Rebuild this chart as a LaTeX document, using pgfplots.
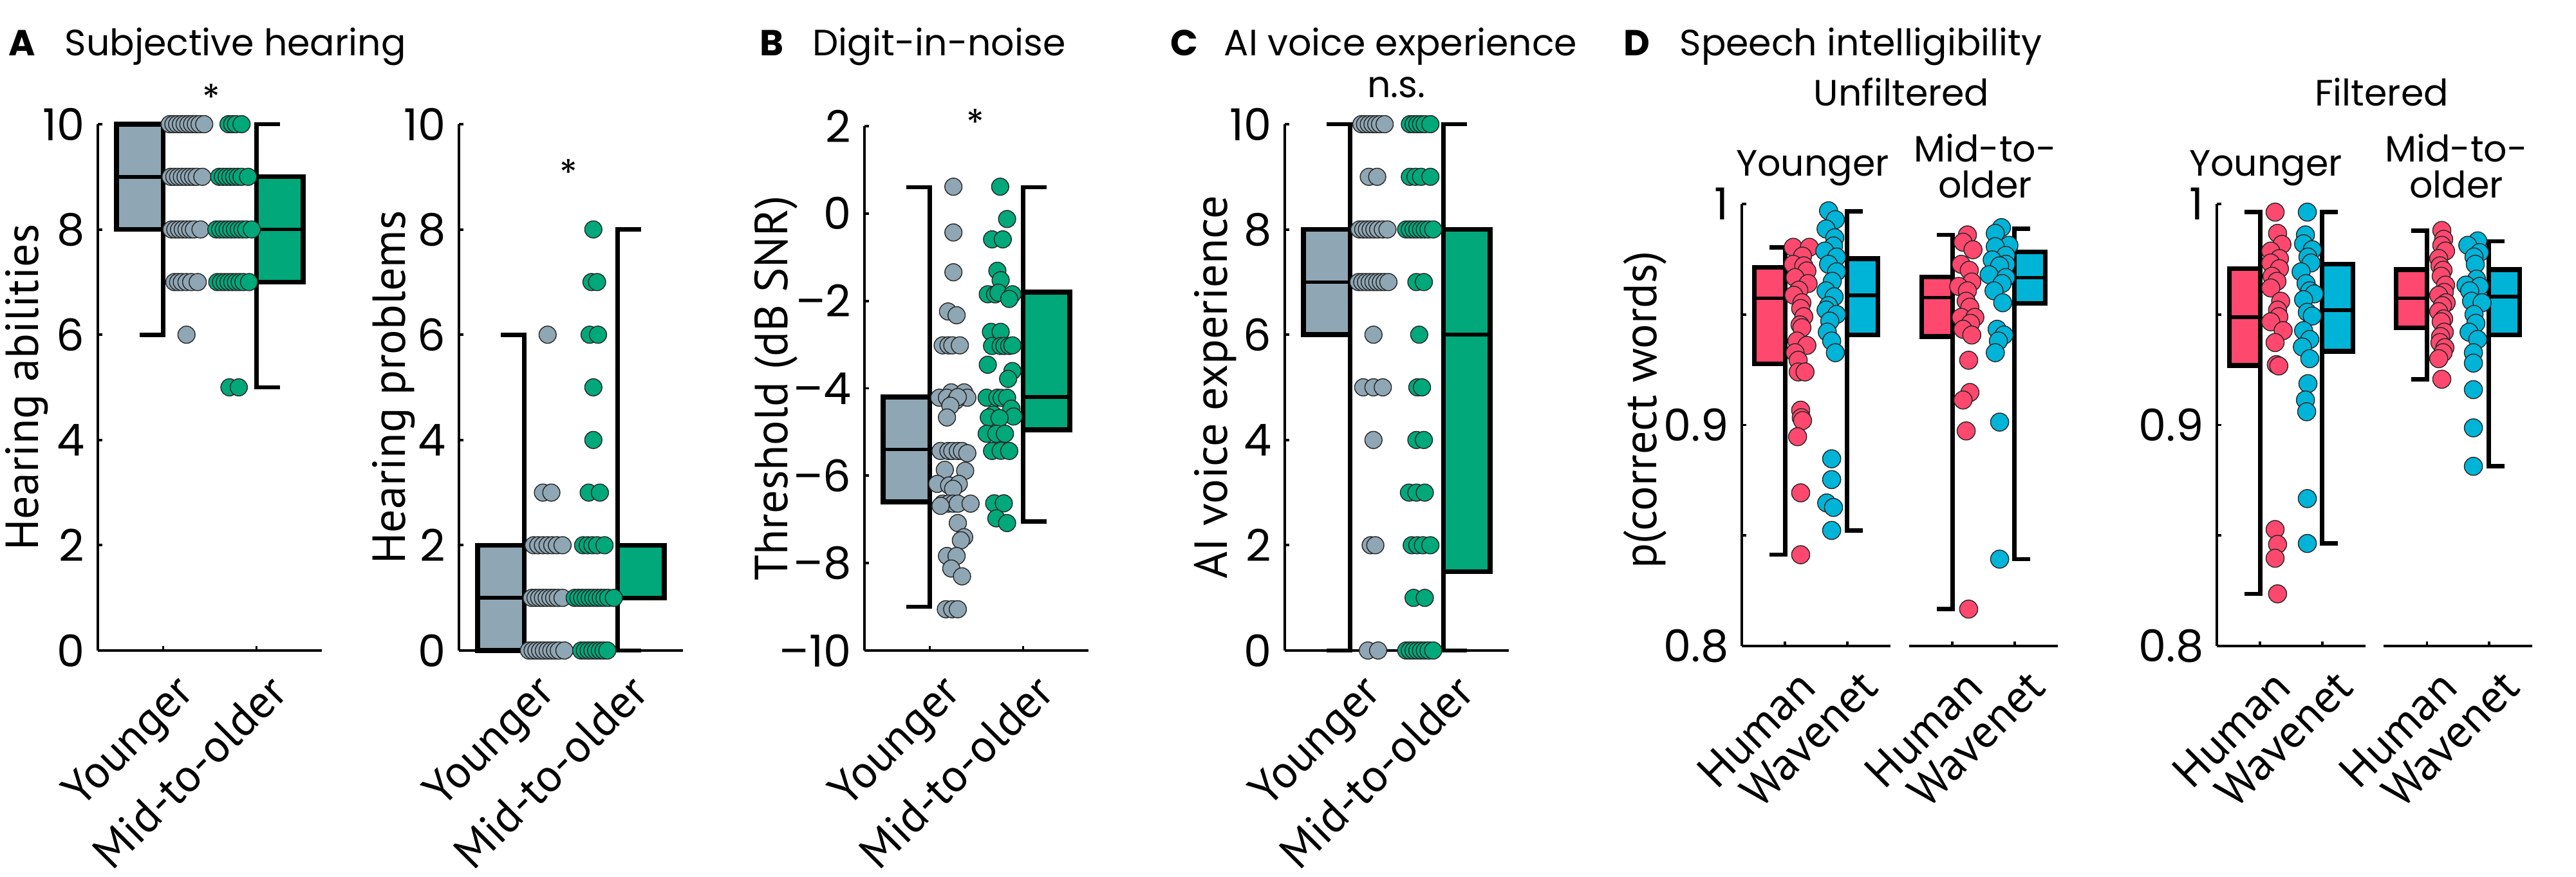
\documentclass[border=0pt]{standalone}
\usepackage{fontspec}
\setmainfont{PT Sans}
\newfontfamily\pop{Poppins}
\usepackage{pgfplots}
\pgfplotsset{compat=1.18}

\definecolor{yng}{RGB}{143,166,180}
\definecolor{old}{RGB}{0,168,122}
\definecolor{hum}{RGB}{255,72,110}
\definecolor{wav}{RGB}{0,180,216}

\newcommand\lbl{\fontsize{20.5}{23}\selectfont}
\newcommand\num{\pop\fontsize{19.5}{22}\selectfont}
\newcommand\ttl{\pop\fontsize{16.2}{19}\selectfont}
\newcommand\lett{\pop\bfseries\fontsize{16}{20}\selectfont}

\pgfplotsset{
  panel/.style={
    scale only axis, anchor=south west, clip=false,
    width=3.48cm, height=8.18cm,
    xmin=0.3, xmax=2.7,
    axis x line=bottom, axis y line=left,
    axis line style={-, line width=1.1pt},
    tick align=inside, major tick length=0.07cm,
    tick style={black, line width=1.1pt},
    xtick={1,2},
    xticklabels={Younger,Mid-to-older},
    xticklabel style={font=\lbl, inner sep=0pt, xshift=0.15cm, yshift=-0.32cm, rotate=45, anchor=north east},
    yticklabel style={font=\num, inner sep=0pt, xshift=-0.2cm, anchor=east},
    /pgf/number format/assume math mode=true,
    ylabel style={font=\lbl, anchor=center},
  },
  dpanel/.style={panel, width=2.31cm, height=6.87cm, ymin=0.8, ymax=1,
    xticklabels={Human,Wavenet},
    ytick={0.8,0.85,0.9,0.95,1}, yticklabels={0.8,,0.9,,1}},
  pt/.style={only marks, mark=*, mark size=3.8pt,
    mark options={fill=#1, draw=black!85, line width=0.4pt}},
  bx/.style={fill=#1, draw=black, line width=2.1pt, line join=miter},
  wh/.style={black, line width=1.9pt},
  md/.style={black, line width=1.6pt},
}

\begin{document}
\begin{tikzpicture}
\path[use as bounding box] (0,0) rectangle (40.02,13.63);

% ---------------- A: hearing abilities
\begin{axis}[panel, at={(1.52cm,3.52cm)}, ymin=0, ymax=10, ytick={0,2,...,10},
  ylabel={Hearing abilities}, ylabel style={at={(axis description cs:-0.316,0.5)}}]
\addplot[bx=yng] coordinates {(0.5,8) (1,8) (1,10) (0.5,10)} -- cycle;
\addplot[md] coordinates {(0.5,9) (1,9)};
\addplot[wh] coordinates {(0.75,6) (1,6) (1,10)};
\addplot[bx=old] coordinates {(2,7) (2.5,7) (2.5,9) (2,9)} -- cycle;
\addplot[md] coordinates {(2,8) (2.5,8)};
\addplot[wh] coordinates {(2.25,10) (2,10) (2,5) (2.25,5)};
\addplot[pt=yng] coordinates {
 (1.07,10)(1.11,10)(1.15,10)(1.19,10)(1.23,10)(1.27,10)(1.31,10)(1.35,10)(1.39,10)(1.44,10)
 (1.08,9)(1.12,9)(1.16,9)(1.20,9)(1.24,9)(1.28,9)(1.32,9)(1.36,9)(1.42,9)
 (1.09,8)(1.13,8)(1.17,8)(1.21,8)(1.25,8)(1.29,8)(1.33,8)(1.40,8)
 (1.12,7)(1.16,7)(1.20,7)(1.25,7)(1.30,7)(1.37,7)
 (1.25,6)};
\addplot[pt=old] coordinates {
 (1.70,10)(1.74,10)(1.78,10)(1.84,10)
 (1.60,9)(1.64,9)(1.68,9)(1.72,9)(1.76,9)(1.80,9)(1.84,9)(1.91,9)
 (1.57,8)(1.61,8)(1.65,8)(1.69,8)(1.73,8)(1.77,8)(1.81,8)(1.85,8)(1.89,8)(1.95,8)
 (1.58,7)(1.62,7)(1.66,7)(1.70,7)(1.74,7)(1.78,7)(1.82,7)(1.86,7)(1.92,7)
 (1.71,5)(1.81,5)};
\end{axis}

% ---------------- A: hearing problems
\begin{axis}[panel, at={(7.13cm,3.52cm)}, ymin=0, ymax=10, ytick={0,2,...,10},
  ylabel={Hearing problems}, ylabel style={at={(axis description cs:-0.292,0.5)}}]
\addplot[bx=yng] coordinates {(0.5,0) (1,0) (1,2) (0.5,2)} -- cycle;
\addplot[md] coordinates {(0.5,1) (1,1)};
\addplot[wh] coordinates {(0.75,6) (1,6) (1,0)};
\addplot[bx=old] coordinates {(2,1) (2.5,1) (2.5,2) (2,2)} -- cycle;
\addplot[wh] coordinates {(2.25,8) (2,8) (2,0) (2.25,0)};
\addplot[pt=yng] coordinates {
 (1.05,0)(1.09,0)(1.13,0)(1.17,0)(1.21,0)(1.25,0)(1.29,0)(1.33,0)(1.37,0)(1.43,0)
 (1.08,1)(1.12,1)(1.16,1)(1.20,1)(1.24,1)(1.28,1)(1.32,1)(1.36,1)(1.41,1)
 (1.10,2)(1.15,2)(1.20,2)(1.25,2)(1.30,2)(1.35,2)(1.41,2)
 (1.20,3)(1.29,3)
 (1.25,6)};
\addplot[pt=old] coordinates {
 (1.61,0)(1.65,0)(1.69,0)(1.73,0)(1.77,0)(1.81,0)(1.85,0)(1.89,0)
 (1.54,1)(1.58,1)(1.62,1)(1.66,1)(1.70,1)(1.74,1)(1.78,1)(1.82,1)(1.86,1)(1.90,1)(1.96,1)
 (1.63,2)(1.68,2)(1.73,2)(1.78,2)(1.86,2)
 (1.69,3)(1.81,3)
 (1.74,4)(1.74,5)
 (1.70,6)(1.79,6)
 (1.72,7)(1.78,7)
 (1.74,8)};
\end{axis}

% ---------------- B: digit-in-noise
\begin{axis}[panel, at={(13.43cm,3.52cm)}, height=8.15cm, ymin=-10, ymax=2,
  ytick={-10,-8,...,2}, yticklabels={–10,–8,–6,–4,–2,0,2},
  ylabel={Threshold (dB SNR)}, ylabel style={at={(axis description cs:-0.394,0.5)}}]
\addplot[bx=yng] coordinates {(0.5,-6.6) (1,-6.6) (1,-4.2) (0.5,-4.2)} -- cycle;
\addplot[md] coordinates {(0.5,-5.4) (1,-5.4)};
\addplot[wh] coordinates {(0.75,0.6) (1,0.6) (1,-9) (0.75,-9)};
\addplot[bx=old] coordinates {(2,-4.95) (2.5,-4.95) (2.5,-1.8) (2,-1.8)} -- cycle;
\addplot[md] coordinates {(2,-4.2) (2.5,-4.2)};
\addplot[wh] coordinates {(2.25,0.6) (2,0.6) (2,-7.05) (2.25,-7.05)};
\addplot[pt=yng] coordinates {
 (1.253,0.613)(1.253,-0.434)(1.253,-1.345)(1.195,-2.242)(1.287,-2.328)
 (1.138,-3.017)(1.20,-3.017)(1.241,-3.017)(1.322,-3.017)
 (1.23,-4.093)(1.103,-4.215)(1.184,-4.215)(1.368,-4.093)(1.402,-4.215)(1.276,-4.286)(1.30,-4.2)(1.22,-4.4)(1.184,-4.667)
 (1.115,-5.434)(1.20,-5.434)(1.241,-5.434)(1.30,-5.434)(1.345,-5.434)(1.402,-5.484)
 (1.161,-5.865)(1.379,-5.886)(1.08,-6.187)(1.207,-6.223)(1.31,-6.187)(1.25,-6.3)
 (1.138,-6.639)(1.20,-6.639)(1.253,-6.639)(1.30,-6.639)(1.437,-6.639)(1.115,-6.689)
 (1.3,-7.084)(1.368,-7.407)(1.333,-7.478)(1.184,-7.837)(1.287,-7.837)(1.23,-8.124)(1.345,-8.303)
 (1.172,-9.056)(1.24,-9.056)(1.3,-9.056)};
\addplot[pt=old] coordinates {
 (1.754,0.613)(1.828,-0.126)(1.667,-0.592)(1.782,-0.592)(1.724,-1.31)(1.759,-1.525)
 (1.621,-1.848)(1.70,-1.85)(1.736,-1.812)(1.885,-1.848)(1.851,-1.955)
 (1.655,-2.708)(1.759,-2.708)(1.667,-3.031)(1.759,-3.031)(1.80,-3.03)(1.851,-3.031)(1.885,-3.017)
 (1.621,-3.461)(1.885,-3.605)(1.839,-3.784)
 (1.609,-4.215)(1.724,-4.215)(1.77,-4.22)(1.828,-4.215)(1.874,-4.466)(1.68,-4.6)(1.897,-4.645)(1.632,-4.667)(1.747,-4.681)
 (1.609,-5.04)(1.713,-5.04)(1.805,-5.04)(1.667,-5.434)(1.76,-5.43)(1.851,-5.434)
 (1.69,-6.632)(1.793,-6.632)(1.713,-6.976)(1.828,-7.084)};
\end{axis}

% ---------------- C: AI voice experience
\begin{axis}[panel, at={(19.96cm,3.52cm)}, ymin=0, ymax=10, ytick={0,2,...,10},
  ylabel={AI voice experience}, ylabel style={at={(axis description cs:-0.31,0.5)}}]
\addplot[bx=yng] coordinates {(0.5,6) (1,6) (1,8) (0.5,8)} -- cycle;
\addplot[md] coordinates {(0.5,7) (1,7)};
\addplot[wh] coordinates {(0.75,10) (1,10) (1,0) (0.75,0)};
\addplot[bx=old] coordinates {(2,1.5) (2.5,1.5) (2.5,8) (2,8)} -- cycle;
\addplot[md] coordinates {(2,6) (2.5,6)};
\addplot[wh] coordinates {(2.25,10) (2,10) (2,0) (2.25,0)};
\addplot[pt=yng] coordinates {
 (1.12,10)(1.16,10)(1.20,10)(1.24,10)(1.28,10)(1.32,10)(1.37,10)
 (1.20,9)(1.29,9)
 (1.10,8)(1.14,8)(1.18,8)(1.22,8)(1.26,8)(1.30,8)(1.35,8)(1.40,8)
 (1.09,7)(1.13,7)(1.17,7)(1.21,7)(1.25,7)(1.29,7)(1.33,7)(1.37,7)(1.41,7)
 (1.25,6)
 (1.14,5)(1.25,5)(1.35,5)
 (1.25,4)
 (1.22,2)(1.27,2)
 (1.19,0)(1.30,0)};
\addplot[pt=old] coordinates {
 (1.64,10)(1.68,10)(1.72,10)(1.76,10)(1.80,10)(1.86,10)
 (1.64,9)(1.70,9)(1.76,9)(1.86,9)
 (1.60,8)(1.64,8)(1.68,8)(1.72,8)(1.76,8)(1.80,8)(1.84,8)(1.89,8)
 (1.71,7)(1.79,7)
 (1.74,6)
 (1.72,5)(1.77,5)
 (1.71,4)(1.79,4)
 (1.63,3)(1.71,3)(1.80,3)
 (1.66,2)(1.72,2)(1.78,2)(1.86,2)
 (1.68,1)(1.80,1)
 (1.60,0)(1.64,0)(1.68,0)(1.72,0)(1.76,0)(1.80,0)(1.84,0)(1.89,0)};
\end{axis}

% ---------------- D: unfiltered, younger
\begin{axis}[dpanel, at={(27.06cm,3.59cm)},
  ylabel={p(correct words)}, ylabel style={at={(axis description cs:-0.649,0.534)}}]
\addplot[bx=hum] coordinates {(0.5,0.9276) (1,0.9276) (1,0.9713) (0.5,0.9713)} -- cycle;
\addplot[md] coordinates {(0.5,0.9573) (1,0.9573)};
\addplot[wh] coordinates {(0.75,0.9804) (1,0.9804) (1,0.8413) (0.75,0.8413)};
\addplot[bx=wav] coordinates {(2,0.9407) (2.5,0.9407) (2.5,0.9753) (2,0.9753)} -- cycle;
\addplot[md] coordinates {(2,0.9587) (2.5,0.9587)};
\addplot[wh] coordinates {(2.25,0.9967) (2,0.9967) (2,0.8523) (2.25,0.8523)};
\addplot[pt=hum, mark size=4pt] coordinates {
 (1.13,0.9804)(1.39,0.9804)(1.28,0.9764)(1.13,0.9727)(1.30,0.9720)(1.35,0.9697)(1.16,0.9667)
 (1.37,0.9640)(1.22,0.9610)(1.14,0.9587)(1.27,0.9553)(1.25,0.9527)(1.30,0.9490)(1.24,0.9453)
 (1.27,0.9440)(1.19,0.9380)(1.35,0.9360)(1.16,0.9327)(1.21,0.9293)(1.21,0.9240)(1.32,0.9240)
 (1.25,0.9067)(1.26,0.9033)(1.28,0.9020)(1.20,0.8947)(1.25,0.8693)(1.25,0.8413)};
\addplot[pt=wav, mark size=4pt] coordinates {
 (1.70,0.9969)(1.81,0.9929)(1.66,0.9887)(1.80,0.9847)(1.78,0.9810)(1.64,0.9787)(1.83,0.9760)
 (1.70,0.9727)(1.83,0.9693)(1.76,0.9650)(1.66,0.9607)(1.79,0.9580)(1.70,0.9540)(1.66,0.9520)
 (1.83,0.9500)(1.72,0.9470)(1.68,0.9420)(1.75,0.9380)(1.81,0.9327)
 (1.75,0.8847)(1.75,0.8753)(1.67,0.8647)(1.78,0.8627)(1.75,0.8523)};
\end{axis}

% ---------------- D: unfiltered, mid-to-older
\begin{axis}[dpanel, at={(29.66cm,3.59cm)}, hide y axis]
\addplot[bx=hum] coordinates {(0.5,0.940) (1,0.940) (1,0.9669) (0.5,0.9669)} -- cycle;
\addplot[md] coordinates {(0.5,0.9576) (1,0.9576)};
\addplot[wh] coordinates {(0.75,0.986) (1,0.986) (1,0.8167) (0.75,0.8167)};
\addplot[bx=wav] coordinates {(2,0.9551) (2.5,0.9551) (2.5,0.9783) (2,0.9783)} -- cycle;
\addplot[md] coordinates {(2,0.9667) (2.5,0.9667)};
\addplot[wh] coordinates {(2.25,0.9887) (2,0.9887) (2,0.8393) (2.25,0.8393)};
\addplot[pt=hum, mark size=4pt] coordinates {
 (1.24,0.9860)(1.17,0.9827)(1.33,0.9793)(1.14,0.9727)(1.27,0.9700)(1.31,0.9647)(1.10,0.9627)
 (1.24,0.9607)(1.22,0.9560)(1.28,0.9533)(1.14,0.9487)(1.36,0.9487)(1.29,0.9460)(1.17,0.9433)
 (1.31,0.9407)(1.26,0.9293)(1.28,0.9147)(1.17,0.9113)(1.22,0.8973)(1.26,0.8167)};
\addplot[pt=wav, mark size=4pt] coordinates {
 (1.79,0.9893)(1.69,0.9867)(1.91,0.9813)(1.69,0.9807)(1.86,0.9767)(1.64,0.9747)(1.86,0.9727)
 (1.76,0.9720)(1.59,0.9680)(1.86,0.9667)(1.80,0.9640)(1.67,0.9607)(1.81,0.9553)(1.72,0.9433)
 (1.83,0.9407)(1.74,0.9380)(1.69,0.9327)(1.76,0.9013)(1.76,0.8393)};
\end{axis}

% ---------------- D: filtered, younger
\begin{axis}[dpanel, at={(34.44cm,3.59cm)}]
\addplot[bx=hum] coordinates {(0.5,0.9269) (1,0.9269) (1,0.9707) (0.5,0.9707)} -- cycle;
\addplot[md] coordinates {(0.5,0.9487) (1,0.9487)};
\addplot[wh] coordinates {(0.75,0.9963) (1,0.9963) (1,0.8236) (0.75,0.8236)};
\addplot[bx=wav] coordinates {(2,0.9333) (2.5,0.9333) (2.5,0.9727) (2,0.9727)} -- cycle;
\addplot[md] coordinates {(2,0.952) (2.5,0.952)};
\addplot[wh] coordinates {(2.25,0.9963) (2,0.9963) (2,0.8464) (2.25,0.8464)};
\addplot[pt=hum, mark size=4pt] coordinates {
 (1.24,0.9963)(1.28,0.9867)(1.35,0.9817)(1.17,0.9787)(1.31,0.9753)(1.17,0.9733)(1.31,0.9707)
 (1.19,0.9673)(1.27,0.9650)(1.17,0.9620)(1.33,0.9560)(1.28,0.9520)(1.30,0.9490)(1.17,0.9467)
 (1.37,0.9427)(1.24,0.9373)(1.26,0.9273)(1.30,0.9267)
 (1.24,0.8527)(1.28,0.8460)(1.24,0.8397)(1.28,0.8236)};
\addplot[pt=wav, mark size=4pt] coordinates {
 (1.76,0.9963)(1.73,0.9860)(1.70,0.9820)(1.84,0.9793)(1.77,0.9760)(1.82,0.9733)(1.66,0.9693)
 (1.74,0.9640)(1.80,0.9607)(1.87,0.9593)(1.70,0.9567)(1.76,0.9510)(1.84,0.9493)(1.70,0.9427)
 (1.80,0.9387)(1.68,0.9353)(1.80,0.9300)(1.77,0.9187)(1.73,0.9113)(1.75,0.9060)
 (1.76,0.8667)(1.76,0.8464)};
\end{axis}

% ---------------- D: filtered, mid-to-older
\begin{axis}[dpanel, at={(37.03cm,3.59cm)}, hide y axis]
\addplot[bx=hum] coordinates {(0.5,0.944) (1,0.944) (1,0.9703) (0.5,0.9703)} -- cycle;
\addplot[md] coordinates {(0.5,0.9573) (1,0.9573)};
\addplot[wh] coordinates {(0.75,0.988) (1,0.988) (1,0.9207) (0.75,0.9207)};
\addplot[bx=wav] coordinates {(2,0.9407) (2.5,0.9407) (2.5,0.9703) (2,0.9703)} -- cycle;
\addplot[md] coordinates {(2,0.958) (2.5,0.958)};
\addplot[wh] coordinates {(2.25,0.9831) (2,0.9831) (2,0.8813) (2.25,0.8813)};
\addplot[pt=hum, mark size=4pt] coordinates {
 (1.24,0.9880)(1.27,0.9840)(1.24,0.9813)(1.30,0.9787)(1.19,0.9753)(1.21,0.9720)(1.26,0.9700)
 (1.23,0.9673)(1.30,0.9633)(1.28,0.9600)(1.19,0.9587)(1.31,0.9553)(1.25,0.9540)(1.19,0.9513)
 (1.27,0.9480)(1.23,0.9467)(1.28,0.9420)(1.22,0.9400)(1.21,0.9373)(1.29,0.9350)(1.26,0.9327)
 (1.19,0.9300)(1.24,0.9207)};
\addplot[pt=wav, mark size=4pt] coordinates {
 (1.82,0.9833)(1.66,0.9813)(1.85,0.9780)(1.76,0.9760)(1.78,0.9727)(1.80,0.9660)(1.63,0.9633)
 (1.85,0.9627)(1.69,0.9607)(1.72,0.9560)(1.89,0.9553)(1.76,0.9500)(1.79,0.9460)(1.68,0.9420)
 (1.82,0.9387)(1.75,0.9327)(1.75,0.9280)(1.75,0.9160)(1.75,0.8987)(1.75,0.8813)};
\end{axis}

% ---------------- titles and annotations
\node[anchor=base west, inner sep=0] at (0.13,12.76) {\lett A};
\node[anchor=base west, inner sep=0] at (1.00,12.76) {\ttl Subjective hearing};
\node[anchor=base west, inner sep=0] at (11.80,12.76) {\lett B};
\node[anchor=base west, inner sep=0] at (12.62,12.76) {\ttl Digit-in-noise};
\node[anchor=base west, inner sep=0] at (18.18,12.76) {\lett C};
\node[anchor=base west, inner sep=0] at (19.01,12.76) {\ttl AI voice experience};
\node[anchor=base west, inner sep=0] at (25.22,12.76) {\lett D};
\node[anchor=base west, inner sep=0] at (26.09,12.76) {\ttl Speech intelligibility};

\node[anchor=north, inner sep=0] at (3.28,12.33) {\ttl *};
\node[anchor=north, inner sep=0] at (8.83,11.16) {\ttl *};
\node[anchor=north, inner sep=0] at (15.15,11.94) {\ttl *};
\node[anchor=base, inner sep=0] at (21.69,12.11) {\ttl n.s.};

\node[anchor=base, inner sep=0] at (29.54,11.98) {\ttl Unfiltered};
\node[anchor=base, inner sep=0] at (37.00,11.98) {\ttl Filtered};
\node[anchor=base, inner sep=0] at (28.16,10.89) {\ttl Younger};
\node[anchor=base, inner sep=0] at (30.84,11.11) {\ttl Mid-to-};
\node[anchor=base, inner sep=0] at (30.84,10.55) {\ttl older};
\node[anchor=base, inner sep=0] at (35.20,10.89) {\ttl Younger};
\node[anchor=base, inner sep=0] at (38.16,11.11) {\ttl Mid-to-};
\node[anchor=base, inner sep=0] at (38.16,10.55) {\ttl older};
\end{tikzpicture}
\end{document}
